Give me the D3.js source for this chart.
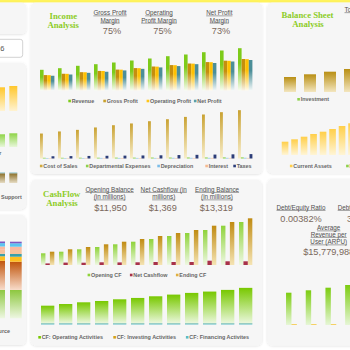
<!DOCTYPE html>
<html><head><meta charset="utf-8">
<script src="https://cdn.jsdelivr.net/npm/d3@7/dist/d3.min.js"></script>
<style>html,body{margin:0;padding:0;background:#fff;overflow:hidden;}svg{display:block}</style>
</head><body>
<svg id="chart" width="350" height="350"></svg>
<script>
// ---------- DATA ----------
const months = ["Jan","Feb","Mar","Apr","May","Jun","Jul","Aug","Sep","Oct","Nov","Dec"];
// Income analysis
const revenue = [1242,1338,1482,1578,1680,1800,1920,2058,2160,2298,2400,2538];
const grossProfit = [925,1005,1100,1175,1255,1345,1440,1525,1620,1705,1790,1890];
const operatingProfit = [920,1000,1095,1170,1250,1340,1432,1518,1612,1698,1782,1880];
const netProfit = [885,960,1060,1125,1205,1300,1385,1465,1580,1650,1740,1830];
const costOfSales = [312,338,358,388,416,438,466,491,520,550,579,604];
const deptExpenses = [9,9,10,10,11,11,12,12,13,13,14,14];
const depreciation = [6,6,6,7,7,7,7,8,8,8,8,9];
const interest = [5,5,5,5,6,6,6,6,6,7,7,7];
const taxes = [28,30,32,34,36,38,40,43,46,49,52,55];
const incomeKpiLabels = [["Gross Profit","Margin"],["Operating","Profit Margin"],["Net Profit","Margin"]];
const incomeKpiValues = ["75%","75%","73%"];
const incomeLegend1 = ["Revenue","Gross Profit","Operating Profit","Net Profit"];
const incomeLegend2 = ["Cost of Sales","Departmental Expenses","Depreciation","Interest","Taxes"];
// Cash flow analysis
const openingCF = [585,665,785,900,1035,1165,1300,1450,1600,1750,1965,2150];
const netCashflow = [80,120,115,135,130,135,150,150,150,215,185,185];
const endingCF = [665,785,900,1035,1165,1300,1450,1600,1750,1965,2150,2335];
const cfOperating = [1040,1140,1240,1320,1420,1500,1600,1700,1800,1880,1980,2100];
const cfInvesting = [5,4,6,5,5,6,4,5,6,5,5,6];
const cfFinancing = [75,75,75,75,75,75,75,75,75,75,75,75];
const cashKpiLabels = [["Opening Balance","(in millions)"],["Net Cashflow (in","millions)"],["Ending Balance","(in millions)"]];
const cashKpiValues = ["$11,950","$1,369","$13,319"];
const cashLegend1 = ["Opening CF","Net Cashflow","Ending CF"];
const cashLegend2 = ["CF: Operating Activities","CF: Investing Activities","CF: Financing Activites"];
// Balance sheet
const investment = [500,590,677,767,850,930,1010,1090,1170,1250,1330,1410];
const currentAssets = [1330,1570,1830,2100,2330,2600,2900,3170,3450,3700,3950,4200];
const balanceLegend1 = ["Investment"];
const balanceLegend2 = ["Current Assets","Fixed Assets"];
// Ratios panel
const ratioMain = [3230,3470,3730,4000,4250,4500,4750,5000,5250,5500,5750,6000];
const ratioMinor = [80,80,80,80,80,80,80,80,80,80,80,80];
const ratioKpiLabels = ["Debt/Equity Ratio","Debt/Asset Ratio"];
const ratioKpiValues = ["0.00382%","36.27%"];
const arpuLabel = ["Average","Revenue per","User (ARPU)"];
const arpuValue = "$15,779,988";
// Left column
const leftCats = ["A","B"];
const leftYellow = [23.7,25];
const leftGreen = [12.7,13.7];
const leftDark = [9.7,9.7];
const leftDarkCap = [0.8,0.8];
const srcGreen = [28.5,28.3];
const srcOrange = [29,28.3];
const srcYellow = [4.5,5];
const srcTeal = [2.5,2.7];
const srcPeach = [4,4];
const srcSalmon = [3.3,3.3];
const srcBlue = [3.4,3.4];
const srcPurple = [1.6,1.6];

// ---------- SETUP ----------
const svg = d3.select("#chart");
const defs = svg.append("defs");
const SANS = "'Liberation Sans', Arial, Helvetica, sans-serif";
const SERIF = "'Liberation Serif', 'Times New Roman', serif";
let gid = 0;
function grad(c1, c2, hold) {
  const id = "g" + (gid++);
  const g = defs.append("linearGradient").attr("id", id).attr("x1",0).attr("y1",0).attr("x2",0).attr("y2",1);
  g.append("stop").attr("offset",0).attr("stop-color",c1);
  if (hold) g.append("stop").attr("offset",hold).attr("stop-color",c1);
  g.append("stop").attr("offset",1).attr("stop-color",c2);
  return `url(#${id})`;
}
const flt = defs.append("filter").attr("id","sh").attr("x","-10%").attr("y","-10%").attr("width","120%").attr("height","120%");
flt.append("feDropShadow").attr("dx",0).attr("dy",0.6).attr("stdDeviation",0.9).attr("flood-color","#000").attr("flood-opacity",0.13);

svg.append("rect").attr("width",350).attr("height",350).attr("fill","#fff");
svg.append("rect").attr("width",350).attr("height",2.5).attr("fill","#fff35c");

function panel(x,y,w,h){ svg.append("rect").attr("x",x).attr("y",y).attr("width",w).attr("height",h).attr("rx",5).attr("fill","#f6f6f6").attr("filter","url(#sh)"); }
function band(domain, start, step, pi){
  return d3.scaleBand().domain(domain).range([start, start + step*domain.length]).paddingInner(pi).paddingOuter(pi/2);
}
function text(x, y, s, o={}) {
  const size = o.size || 6;
  const t = svg.append("text").attr("x",x).attr("y",y).text(s)
    .attr("font-family", o.family||SANS).attr("font-size", size)
    .attr("font-weight", o.weight||"normal").attr("fill", o.fill||"#555")
    .attr("text-anchor", o.anchor||"start").attr("dominant-baseline","central");
  if (o.underline) {
    const w = t.node().getComputedTextLength();
    const x0 = o.anchor==="middle" ? x-w/2 : (o.anchor==="end" ? x-w : x);
    svg.append("line").attr("x1",x0).attr("x2",x0+w).attr("y1",y+size*0.5).attr("y2",y+size*0.5)
      .attr("stroke",o.fill||"#555").attr("stroke-width",0.5);
  }
  return t;
}
function legend(items, xs, y, colors){
  items.forEach((lab,i)=>{
    svg.append("rect").attr("x",xs[i]-3.4).attr("y",y-1.3).attr("width",2.6).attr("height",2.6).attr("fill",colors[i]);
    text(xs[i], y, lab, {size:5.4, weight:"bold", fill:"#666"});
  });
}
function bars(arr, xs, xoff, w, ys, fill){
  svg.append("g").selectAll("rect").data(arr).join("rect")
    .attr("x",(d,i)=>xs(xs.domain()[i])+xoff).attr("width",w)
    .attr("y",d=>ys(d)).attr("height",d=>ys(0)-ys(d)).attr("fill",fill);
}

// ---------- PANELS ----------
panel(-10,2.7,36.3,31.3);
panel(-10,62.7,36,146.6);
panel(-10,215,36,130);
panel(30.7,2.7,231.6,171.3);
panel(30.7,180,231.3,165.5);
panel(267.3,2.7,100,170.6);
panel(267.3,179,100,166.5);

// input box
svg.append("rect").attr("x",-6).attr("y",39.3).attr("width",28.7).attr("height",18).attr("rx",2.5).attr("fill","#fff").attr("stroke","#c6c6c6").attr("stroke-width",0.8);
text(4.3,48.3,"2016",{size:7.5,anchor:"end",fill:"#555"});

// ---------- INCOME ----------
text(63.3,16,"Income",{family:SERIF,size:8.7,weight:"bold",fill:"#8ccc26",anchor:"middle"});
text(63.2,25.3,"Analysis",{family:SERIF,size:8.7,weight:"bold",fill:"#8ccc26",anchor:"middle"});
const incLabelX = [110,159,219.3], incValX = [112,162.5,221];
incomeKpiLabels.forEach((l,i)=>{
  text(incLabelX[i],12.7,l[0],{size:6.3,anchor:"middle",fill:"#505050",underline:true});
  text(incLabelX[i],20,l[1],{size:6.3,anchor:"middle",fill:"#505050",underline:true});
  text(incValX[i],30.7,incomeKpiValues[i],{size:9.2,anchor:"middle",fill:"#7a685c"});
});
const xInc = band(months, 38.2, 18, 0.2);
const yInc = d3.scaleLinear().domain([0,3000]).range([90.5,40.5]);
const subInc = d3.scaleBand().domain(d3.range(4)).range([0,xInc.bandwidth()]);
const incColors = ["#7dcb1a","#c58e0e","#ffc000","#4b8e98"];
const incFills = [grad("#7dcb1a","#f7fcf0",0.35),grad("#c58e0e","#faf4e6",0.35),grad("#ffc000","#fffaea",0.35),grad("#4b8e98","#f2f8f8",0.35)];
[revenue,grossProfit,operatingProfit,netProfit].forEach((arr,k)=>bars(arr,xInc,subInc(k),subInc.bandwidth(),yInc,incFills[k]));
legend(incomeLegend1,[71.7,106.7,150,197.3],101,["#7dcb1a","#c8a02a","#ffc61a","#5aa0a8"]);

const yCost = d3.scaleLinear().domain([0,650]).range([158.5,106.5]);
const subCost = d3.scaleBand().domain(d3.range(5)).range([0,xInc.bandwidth()]);
const costColors = ["#c9a232","#8ed14a","#7bbde8","#f7b98f","#2c3d78"];
const costFills = [grad("#c9a232","#f8eecb"),"#8ed14a","#7bbde8","#f7b98f","#2c3d78"];
[costOfSales,deptExpenses,depreciation,interest,taxes].forEach((arr,k)=>bars(arr,xInc,subCost(k),subCost.bandwidth(),yCost,costFills[k]));
legend(incomeLegend2,[43.3,89.3,160.7,208.7,236.7],166,["#d0aa40","#8ed14a","#7bbde8","#f7b98f","#2c3d78"]);

// ---------- CASH FLOW ----------
text(61.7,194,"CashFlow",{family:SERIF,size:8.7,weight:"bold",fill:"#8ccc26",anchor:"middle"});
text(62,203.3,"Analysis",{family:SERIF,size:8.7,weight:"bold",fill:"#8ccc26",anchor:"middle"});
const cashLabelX = [109.6,163.7,217], cashValX = [110.5,162.8,216.3];
cashKpiLabels.forEach((l,i)=>{
  text(cashLabelX[i],189.3,l[0],{size:6.3,anchor:"middle",fill:"#505050",underline:true});
  text(cashLabelX[i],196.7,l[1],{size:6.3,anchor:"middle",fill:"#505050",underline:true});
  text(cashValX[i],208.3,cashKpiValues[i],{size:9.2,anchor:"middle",fill:"#7a685c"});
});
const xCash = band(months, 38.66, 18, 0.26);
const yCash = d3.scaleLinear().domain([0,2500]).range([265,215]);
const subCash = d3.scaleBand().domain(d3.range(3)).range([0,xCash.bandwidth()]);
const cashFills = [grad("#8fd33a","#eef8e2"),"#a8324a",grad("#c08b12","#f5e4b4")];
[openingCF,netCashflow,endingCF].forEach((arr,k)=>bars(arr,xCash,subCash(k),subCash.bandwidth(),yCash,cashFills[k]));
legend(cashLegend1,[91,133.3,179.3],275,["#8fd33a","#a8324a","#e0b040"]);

const yOp = d3.scaleLinear().domain([0,2500]).range([324.5,282.5]);
const cfRows = months.map((m,i)=>({m, fin:cfFinancing[i], inv:cfInvesting[i], op:cfOperating[i]}));
const cfStack = d3.stack().keys(["fin","inv","op"])(cfRows);
const cfFills = {fin:"#5cbcc4", inv:"#d4a017", op:grad("#78c800","#eaf7dc")};
cfStack.forEach(layer=>{
  svg.append("g").selectAll("rect").data(layer).join("rect")
    .attr("x",d=>xCash(d.data.m)).attr("width",xCash.bandwidth())
    .attr("y",d=>yOp(d[1])).attr("height",d=>yOp(d[0])-yOp(d[1])).attr("fill",cfFills[layer.key]);
});
legend(cashLegend2,[41.7,116.7,189.3],337.3,["#78c800","#d4a017","#5cbcc4"]);

// ---------- BALANCE SHEET ----------
text(307.5,15,"Balance Sheet",{family:SERIF,size:8.7,weight:"bold",fill:"#8ccc26",anchor:"middle"});
text(308,24.3,"Analysis",{family:SERIF,size:8.7,weight:"bold",fill:"#8ccc26",anchor:"middle"});
text(344.5,9.5,"Total Assets",{size:6.3,fill:"#505050",underline:true});
const xInv = band(months, 280, 20, 0.4);
const yInv = d3.scaleLinear().domain([0,1000]).range([92,62]);
bars(investment,xInv,0,xInv.bandwidth(),yInv,grad("#b98f14","#f3e6bf"));
legend(balanceLegend1,[300.7],99.3,["#8ed14a"]);
const xCA = band(months, 280.3, 9.5, 0.3);
const yCA = d3.scaleLinear().domain([0,4000]).range([155,115]);
bars(currentAssets,xCA,0,xCA.bandwidth(),yCA,grad("#ffcf4a","#fff5d6"));
legend(balanceLegend2,[293.3,349.5],166,["#ffcf4a","#8ed14a"]);

// ---------- RATIOS ----------
text(301,207.3,ratioKpiLabels[0],{size:6.3,anchor:"middle",fill:"#505050",underline:true});
text(301,219,ratioKpiValues[0],{size:9.2,anchor:"middle",fill:"#7a685c"});
text(337.7,207.3,ratioKpiLabels[1],{size:6.3,fill:"#505050",underline:true});
text(362.5,219,ratioKpiValues[1],{size:9.2,anchor:"middle",fill:"#7a685c"});
arpuLabel.forEach((l,i)=>text(328.7,[227.7,234.3,241.7][i],l,{size:6.3,anchor:"middle",fill:"#505050",underline:true}));
text(328.7,251.7,arpuValue,{size:9.2,anchor:"middle",fill:"#7a685c"});
const xR = band(months, 281.6, 19.7, 0.45);
const yR = d3.scaleLinear().domain([0,5000]).range([325,275]);
const subR = d3.scaleBand().domain([0,1]).range([0,xR.bandwidth()]);
bars(ratioMain,xR,subR(0),subR.bandwidth(),yR,grad("#7ccc10","#e6f6d6"));
bars(ratioMinor,xR,subR(1),subR.bandwidth(),yR,"#f5c842");

// ---------- LEFT COLUMN ----------
const xL = band(leftCats, -5.15, 12.3, 0.35);
bars(leftYellow,xL,0,xL.bandwidth(),d3.scaleLinear().domain([0,30]).range([111,81]),grad("#ffc72c","#fff3d2"));
bars(leftGreen,xL,0,xL.bandwidth(),d3.scaleLinear().domain([0,30]).range([147,117]),grad("#8fd448","#e8f7da"));
const yLD = d3.scaleLinear().domain([0,30]).range([183,153]);
bars(leftDark,xL,0,xL.bandwidth(),yLD,grad("#8b6f28","#e6dcc4"));
svg.append("g").selectAll("rect").data(leftDarkCap).join("rect")
  .attr("x",(d,i)=>xL(leftCats[i])).attr("width",xL.bandwidth())
  .attr("y",(d,i)=>yLD(leftDark[i]+d)).attr("height",(d,i)=>yLD(leftDark[i])-yLD(leftDark[i]+d)).attr("fill","#7fb9c4");
text(1.3,153,"Partner",{size:5.4,weight:"bold",fill:"#666",anchor:"end"});
text(21.7,196.7,"Customer Support",{size:5.4,weight:"bold",fill:"#666",anchor:"end"});

const xS = band(leftCats, -9.2, 16.7, 0.3);
const yS = d3.scaleLinear().domain([0,100]).range([318.3,218.3]);
const srcLayers = [srcGreen,srcOrange,srcYellow,srcTeal,srcPeach,srcSalmon,srcBlue,srcPurple];
const srcFills = [grad("#8dc73f","#eef7e2"),grad("#c0550c","#f8dccb"),"#ffbf1f","#3aa0a8","#f7c29a","#f9b9a0","#5bc4f0","#7e57c2"];
const srcRows = leftCats.map((c,i)=>{const r={c}; srcLayers.forEach((a,k)=>r["k"+k]=a[i]); return r;});
d3.stack().keys(srcLayers.map((a,k)=>"k"+k))(srcRows).forEach((layer,k)=>{
  svg.append("g").selectAll("rect").data(layer).join("rect")
    .attr("x",d=>xS(d.data.c)).attr("width",xS.bandwidth())
    .attr("y",d=>yS(d[1])).attr("height",d=>yS(d[0])-yS(d[1])).attr("fill",srcFills[k]);
});
text(10,331,"Revenue by Source",{size:5.4,weight:"bold",fill:"#666",anchor:"end"});
</script>
</body></html>
